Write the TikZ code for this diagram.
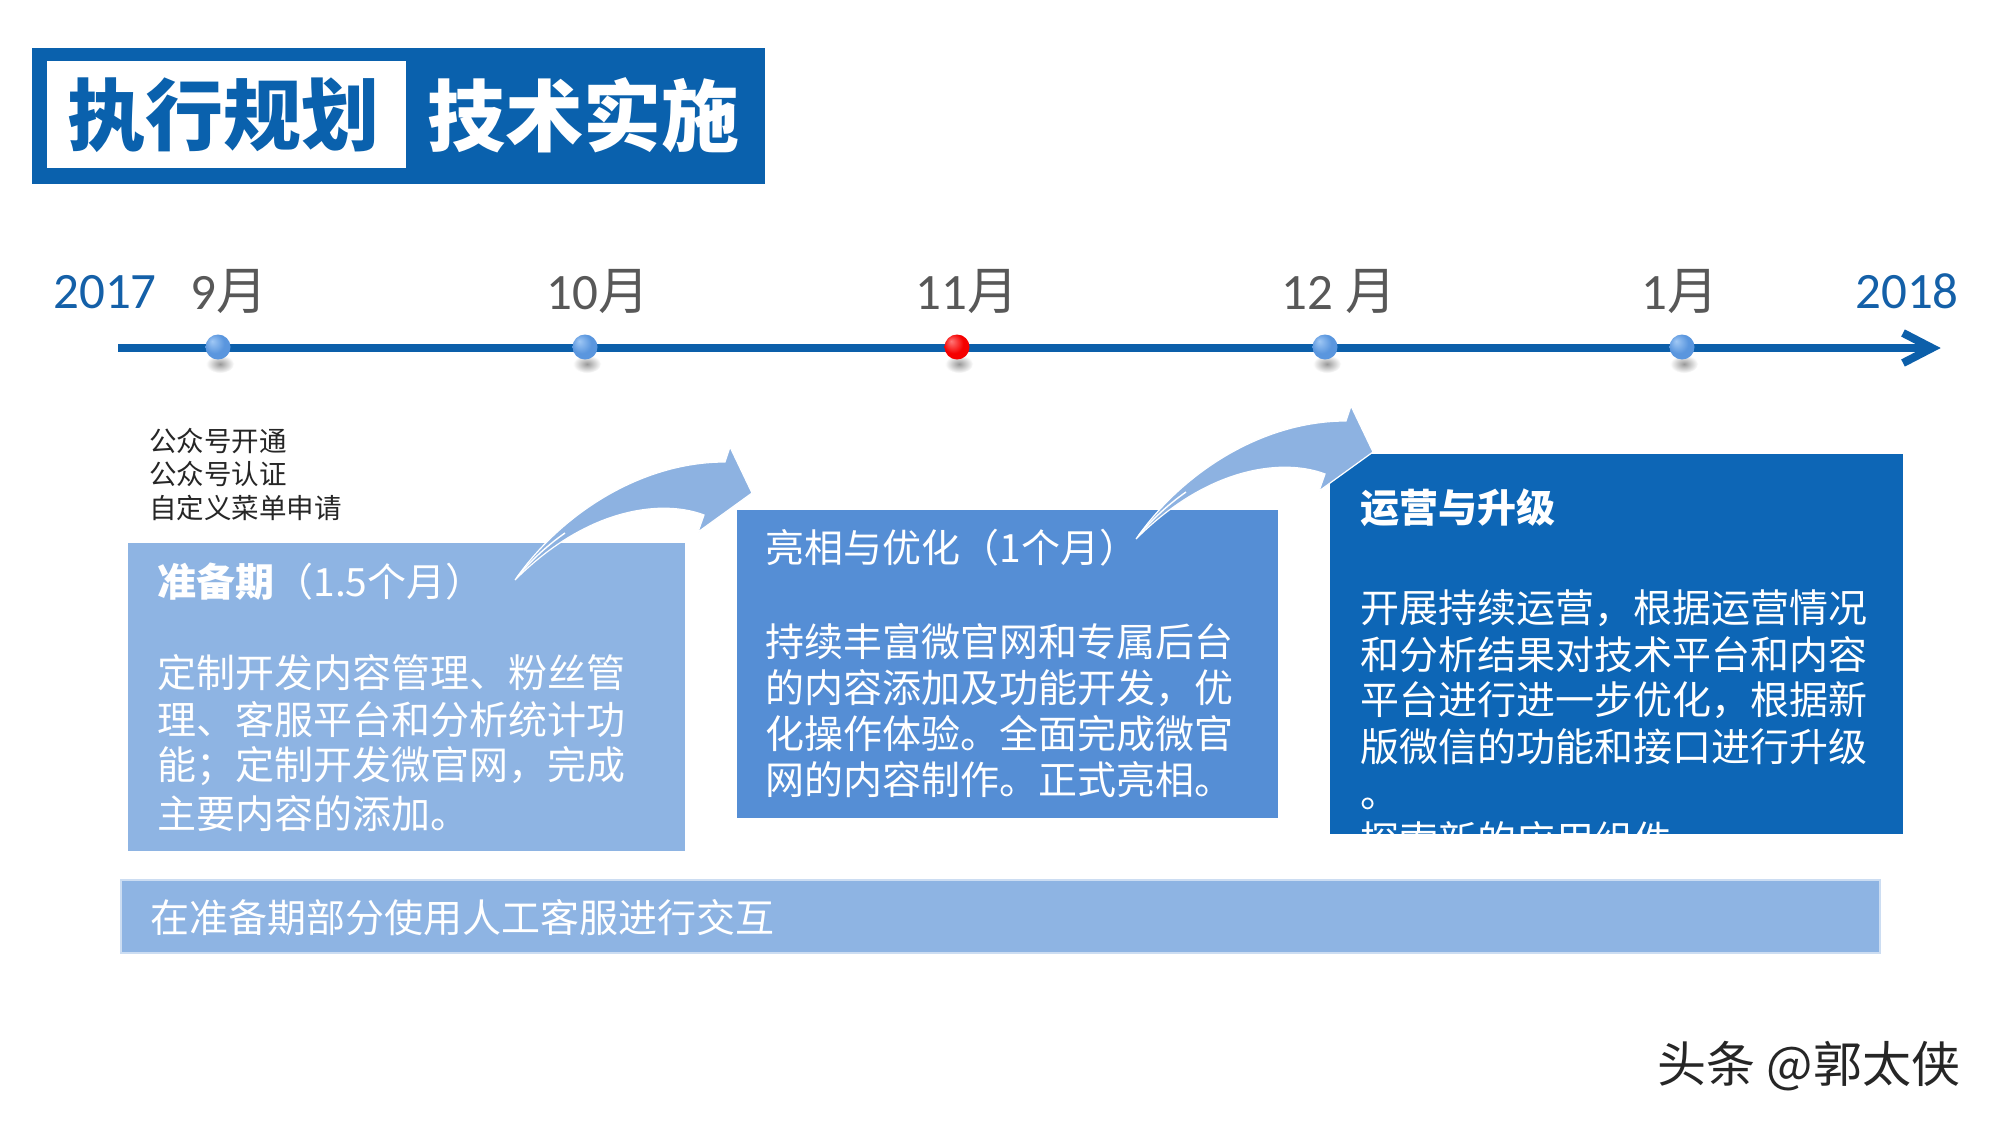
\documentclass[tikz,border=0pt]{standalone}
\usepackage{fontspec}
\setmainfont{Carlito}
\newfontfamily\cjk{Noto Sans CJK SC}
\usetikzlibrary{calc}
\definecolor{bandblue}{RGB}{10,97,173}
\definecolor{deepblue}{RGB}{13,102,182}
\definecolor{lineblue}{RGB}{12,95,170}
\definecolor{midblue}{RGB}{85,142,213}
\definecolor{paleblue}{RGB}{142,180,227}
\definecolor{arrowblue}{RGB}{141,178,225}
\definecolor{yearblue}{RGB}{20,96,168}
\definecolor{monthgray}{RGB}{88,88,88}
\definecolor{dotlight}{RGB}{160,200,245}
\definecolor{dotblue}{RGB}{90,150,222}
\definecolor{dotedge}{RGB}{72,128,198}
\definecolor{redlight}{RGB}{255,120,120}
\definecolor{reddot}{RGB}{245,0,0}
\definecolor{rededge}{RGB}{205,0,0}
\pgfdeclareradialshading{bluedotshade}{\pgfpoint{-12bp}{12bp}}{color(0bp)=(dotlight);color(20bp)=(dotblue);color(42bp)=(dotblue);color(50bp)=(dotedge)}
\pgfdeclareradialshading{reddotshade}{\pgfpoint{-12bp}{12bp}}{color(0bp)=(redlight);color(20bp)=(reddot);color(42bp)=(reddot);color(50bp)=(rededge)}
\tikzset{
  bodytxt/.style={font=\cjk\fontsize{19.5}{23.5}\selectfont, text=white, anchor=west, inner sep=0pt},
  smalltxt/.style={font=\cjk\fontsize{13.75}{16}\selectfont, text=black!85, anchor=west, inner sep=0pt},
  monthlbl/.style={font=\fontsize{25.5}{30}\selectfont, text=monthgray, anchor=base, inner sep=0pt},
  yearlbl/.style={font=\fontsize{25.5}{30}\selectfont, text=yearblue, anchor=base, inner sep=0pt},
  bluedot/.style={circle, minimum size=12.5pt, inner sep=0pt, shade, shading=bluedotshade},
  reddotnode/.style={circle, minimum size=12.5pt, inner sep=0pt, shade, shading=reddotshade},
  tline/.style={draw=lineblue, line width=4pt},
  curvearrow/.pic={
    \filldraw[fill=arrowblue, draw=white, line width=0.6pt, line join=miter]
      (0,0) .. controls (45,-65) and (125,-118) .. (210,-118)
      -- (215,-133) -- (237,-87) -- (183,-48) -- (189,-65)
      .. controls (150,-80) and (75,-75) .. (0,0) -- cycle;
    \draw[white, line width=0.7pt] (3,-4) .. controls (15,-18) and (30,-33) .. (50,-47);
  }
}
\begin{document}
\begin{tikzpicture}[x=0.5pt, y=-0.5pt]
\useasboundingbox (0,0) rectangle (2000,1125);
\fill[white] (0,0) rectangle (2000,1125);

% title band
\coordinate (bandA) at (32,48);
\coordinate (bandB) at (765,184);
\coordinate (whA) at (47,61);
\coordinate (whB) at (406,168);
\fill[bandblue] (bandA) rectangle (bandB);
\fill[white] (whA) rectangle (whB);
\node[font=\cjk\bfseries\fontsize{39}{44}\selectfont, text=bandblue, inner sep=0pt] (t1) at (223,115) {执行规划};
\node[font=\cjk\bfseries\fontsize{39}{44}\selectfont, text=white, inner sep=0pt] (t2) at (583,115) {技术实施};

% timeline
\foreach \x [count=\i] in {218,585,957,1325,1682}
  \shade[inner color=black!40, outer color=white] (\x+2,364) ellipse (14 and 9);
\coordinate (tlS) at (118,348);
\coordinate (tlE) at (1928,348);
\coordinate (tipV) at (1932,348);
\draw[tline] (tlS) -- (tlE);
\draw[tline, line join=miter, miter limit=10] ($(tipV)+(-29,-15)$) -- (tipV) -- ($(tipV)+(-29,15)$);
\node[bluedot] (d1) at (218,347) {};
\node[bluedot] (d2) at (585,347) {};
\node[reddotnode] (d3) at (957,347) {};
\node[bluedot] (d4) at (1325,347) {};
\node[bluedot] (d5) at (1682,347) {};

\node[yearlbl] (y1) at (105,308) {2017};
\node[monthlbl] (m1) at (229,309) {9{\cjk 月}};
\node[monthlbl] (m2) at (598,309) {10{\cjk 月}};
\node[monthlbl] (m3) at (967,309) {11{\cjk 月}};
\node[monthlbl] (m4) at (1339,309) {12 {\cjk 月}};
\node[monthlbl] (m5) at (1680,309) {1{\cjk 月}};
\node[yearlbl] (y2) at (1907,308) {2018};

% small text
\node[smalltxt] (s1) at (149,441) {公众号开通};
\node[smalltxt] (s2) at (149,474) {公众号认证};
\node[smalltxt] (s3) at (149,508) {自定义菜单申请};

% boxes
\coordinate (b1A) at (128,543);
\coordinate (b1B) at (685,851);
\coordinate (b2A) at (737,510);
\coordinate (b2B) at (1278,818);
\coordinate (b3A) at (1330,454);
\coordinate (b3B) at (1903,834);
\coordinate (barA) at (121,880);
\coordinate (barB) at (1880,953);
\fill[paleblue] (b1A) rectangle (b1B);
\fill[midblue] (b2A) rectangle (b2B);
\fill[deepblue] (b3A) rectangle (b3B);
\filldraw[fill=paleblue, draw=paleblue!45, line width=0.8pt] (barA) rectangle (barB);

% box 1 text
\node[bodytxt] (h1) at (157,582) {{\bfseries 准备期}（1.5个月）};
\foreach \t [count=\i from 0] in {定制开发内容管理、粉丝管,理、客服平台和分析统计功,能；定制开发微官网，完成,主要内容的添加。}
  \node[bodytxt] (pa\i) at (157,{673+46.7*\i}) {\t};

% box 2 text
\node[bodytxt] (h2) at (765,548) {亮相与优化（1个月）};
\foreach \t [count=\i from 0] in {持续丰富微官网和专属后台,的内容添加及功能开发，优,化操作体验。全面完成微官,网的内容制作。正式亮相。}
  \node[bodytxt] (pb\i) at (765,{642+45.8*\i}) {\t};

% box 3 text
\node[bodytxt] (h3) at (1360,508) {{\bfseries 运营与升级}};
\begin{scope}
  \clip (b3A) rectangle (b3B);
  \foreach \t [count=\i from 0] in {开展持续运营，根据运营情况,和分析结果对技术平台和内容,平台进行进一步优化，根据新,版微信的功能和接口进行升级}
    \node[bodytxt] (pc\i) at (1360,{608+46.2*\i}) {\t};
  \node[bodytxt] (pc4) at (1360,804) {。};
  \node[bodytxt] (pc5) at (1360,840) {探索新的应用组件};
\end{scope}

% curved arrows
\pic (arrA) at (515,580) {curvearrow};
\pic (arrB) at (1136,539) {curvearrow};

% bottom bar text
\node[bodytxt, font=\cjk\fontsize{19.5}{23.5}\selectfont] (bt) at (150,918) {在准备期部分使用人工客服进行交互};

% watermark
\node[font=\cjk\fontsize{24.5}{28}\selectfont, text=black!85, inner sep=0pt] (wm) at (1809,1066) {头条 @郭太侠};
\end{tikzpicture}
\end{document}
